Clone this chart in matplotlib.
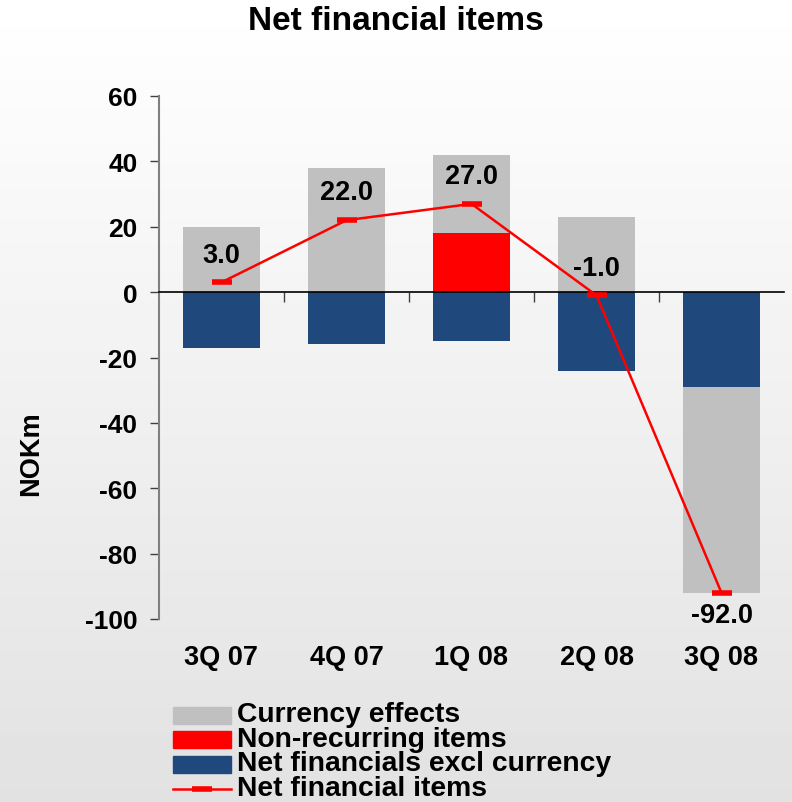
import numpy as np
import matplotlib.pyplot as plt
from matplotlib.lines import Line2D
from matplotlib.patches import Rectangle
import matplotlib.transforms as mtransforms

plt.rcParams['font.family'] = ['Liberation Sans', 'DejaVu Sans']
plt.rcParams['font.weight'] = 'bold'
plt.rcParams['axes.unicode_minus'] = False

# quarterly data, NOKm
quarters = ['3Q 07', '4Q 07', '1Q 08', '2Q 08', '3Q 08']
non_recurring = [0, 0, 18, 0, 0]
excl_currency = [-17, -16, -15, -24, -29]
currency = [20, 38, 24, 23, -63]
net_items = [3.0, 22.0, 27.0, -1.0, -92.0]

c_gray = '#C0C0C0'
c_red = '#FF0000'
c_blue = '#1F497D'

W, H = 792, 803
fig = plt.figure(figsize=(W / 100, H / 100), dpi=100)

# soft vertical gradient behind everything
bg = fig.add_axes([0, 0, 1, 1], zorder=-10)
grad = np.linspace(0.885, 1.0, 256).reshape(-1, 1)
bg.imshow(grad, cmap='gray', vmin=0, vmax=1, aspect='auto', origin='lower',
          extent=[0, 1, 0, 1])
bg.axis('off')

ax = fig.add_axes([159 / W, 1 - 620 / H, 625 / W, 523 / H])
ax.patch.set_alpha(0)

x = np.arange(len(quarters))
w = 0.62

# stack positives upward and negatives downward from zero
pos_base = np.zeros(len(x))
neg_base = np.zeros(len(x))
for vals, col in [(non_recurring, c_red), (excl_currency, c_blue), (currency, c_gray)]:
    vals = np.array(vals, dtype=float)
    base = np.where(vals >= 0, pos_base, neg_base)
    ax.bar(x, vals, w, bottom=base, color=col, zorder=2)
    pos_base = pos_base + np.clip(vals, 0, None)
    neg_base = neg_base + np.clip(vals, None, 0)

ax.plot(x, net_items, color=c_red, lw=1.8, marker='_', ms=14, mew=4, zorder=4)

for xi, v in zip(x, net_items):
    dy = -16 if v < -50 else 20
    ax.annotate(f'{v:.1f}', (xi, v), xytext=(0, dy), textcoords='offset points',
                ha='center', va='center', fontsize=19.5, fontweight='bold', zorder=5)

ax.set_xlim(-0.5, len(x) - 0.5)
ax.set_ylim(-100, 60)
ax.set_yticks(np.arange(-100, 61, 20))
ax.tick_params(axis='y', labelsize=19, length=6.5, width=1, color='#404040', pad=9)

for s in ['top', 'right']:
    ax.spines[s].set_visible(False)
ax.spines['left'].set_color('#808080')
ax.spines['left'].set_linewidth(1.5)

# zero line with category dividers, category names along the bottom
ax.spines['bottom'].set_position(('data', 0))
ax.spines['bottom'].set_linewidth(1.2)
ax.spines['bottom'].set_zorder(3)
ax.set_xticks(np.arange(0.5, len(x) - 0.5, 1))
ax.set_xticklabels([])
ax.tick_params(axis='x', length=7, width=1, color='#404040', direction='out')

trans = mtransforms.blended_transform_factory(ax.transData, ax.transAxes)
for xi, q in zip(x, quarters):
    ax.annotate(q, (xi, 0), xycoords=trans, xytext=(0, -27.5), textcoords='offset points',
                ha='center', va='center', fontsize=19.5, fontweight='bold')

fig.text(31 / W, 1 - 454 / H, 'NOKm', rotation=90, ha='center', va='center',
         fontsize=19.5, fontweight='bold')
fig.text(0.5, 1 - 22 / H, 'Net financial items', ha='center', va='center',
         fontsize=24, fontweight='bold')

# legend rows laid out in figure pixels
labels = ['Currency effects', 'Non-recurring items', 'Net financials excl currency',
          'Net financial items']
styles = [c_gray, c_red, c_blue, 'line']
for i, (lab, st) in enumerate(zip(labels, styles)):
    yc = H - (716 + 24.7 * i)
    if st == 'line':
        fig.add_artist(Line2D([173 / W, 231 / W], [yc / H, yc / H], color=c_red, lw=1.8))
        fig.add_artist(Line2D([202 / W], [yc / H], color=c_red, marker='_', ms=14, mew=4))
    else:
        fig.add_artist(Rectangle((173 / W, (yc - 8.5) / H), 58 / W, 17 / H,
                                 color=st, transform=fig.transFigure))
    fig.text(237 / W, (yc + 1) / H, lab, ha='left', va='center', fontsize=20.3,
             fontweight='bold')

fig.savefig('out.png', dpi=100)
